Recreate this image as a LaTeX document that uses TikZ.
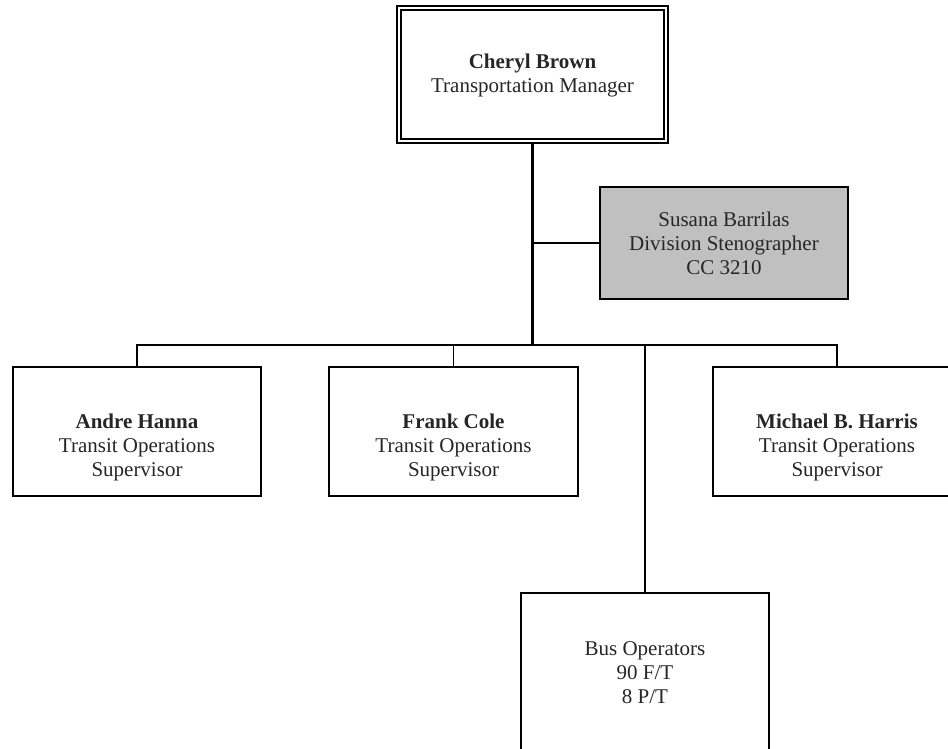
\documentclass[tikz,border=0pt]{standalone}
\usepackage{fontspec}
\setmainfont{Liberation Serif}
\definecolor{boxgray}{HTML}{C0C0C0}
\tikzset{
  orgbox/.style={draw=black, line width=1.5pt, minimum width=248pt, minimum height=129pt, inner sep=0pt},
  lbl/.style={align=center, font=\fontsize{21}{24}\selectfont, inner sep=0pt, text=black!85},
  link/.style={draw=black, line width=1.5pt},
  trunk/.style={draw=black, line width=2.6pt}
}
\begin{document}
\begin{tikzpicture}[x=1pt,y=-1pt]
\useasboundingbox (0,0) rectangle (948,748);
\clip (0,0) rectangle (948,748);
% top box (double border)
\node[draw=black, line width=2pt, minimum width=271pt, minimum height=137pt, inner sep=0pt] (top) at (532.5,74.5) {};
\node[draw=black, line width=1.5pt, minimum width=263pt, minimum height=129pt, inner sep=0pt] (topin) at (532.5,74.5) {};
\node[lbl] (toptxt) at (532.5,75) {\textbf{Cheryl Brown}\\Transportation Manager};
% stenographer
\node[orgbox, fill=boxgray, minimum height=112pt] (steno) at (724,243) {};
\node[lbl] (stenotxt) at (724,243) {Susana Barrilas\\Division Stenographer\\CC 3210};
% supervisors
\node[orgbox] (andre) at (137,431.5) {};
\node[lbl] (andretxt) at (137,447.5) {\textbf{Andre Hanna}\\Transit Operations\\Supervisor};
\node[orgbox, minimum width=249pt] (frank) at (453.5,431.5) {};
\node[lbl] (franktxt) at (453.5,447.5) {\textbf{Frank Cole}\\Transit Operations\\Supervisor};
\node[orgbox, minimum width=280pt] (michael) at (853,431.5) {};
\coordinate (mtop) at (837,367);
\node[lbl] (michaeltxt) at (837,447.5) {\textbf{Michael B. Harris}\\Transit Operations\\Supervisor};
% bus operators
\node[orgbox, minimum height=180pt] (bus) at (645,683) {};
\node[lbl] (bustxt) at (645,672.5) {Bus Operators\\90 F/T\\8 P/T};
% connectors
\coordinate (bj) at (532.5,345);
\draw[trunk] (top.south) -- (bj);
\draw[link] (steno.west) -- (steno.west -| top.south);
\draw[link] (andre.north) |- (bj) -| (mtop);
\draw[link] (frank.north) -- (frank.north |- bj);
\draw[link] (bus.north) -- (bus.north |- bj);
\end{tikzpicture}
\end{document}
